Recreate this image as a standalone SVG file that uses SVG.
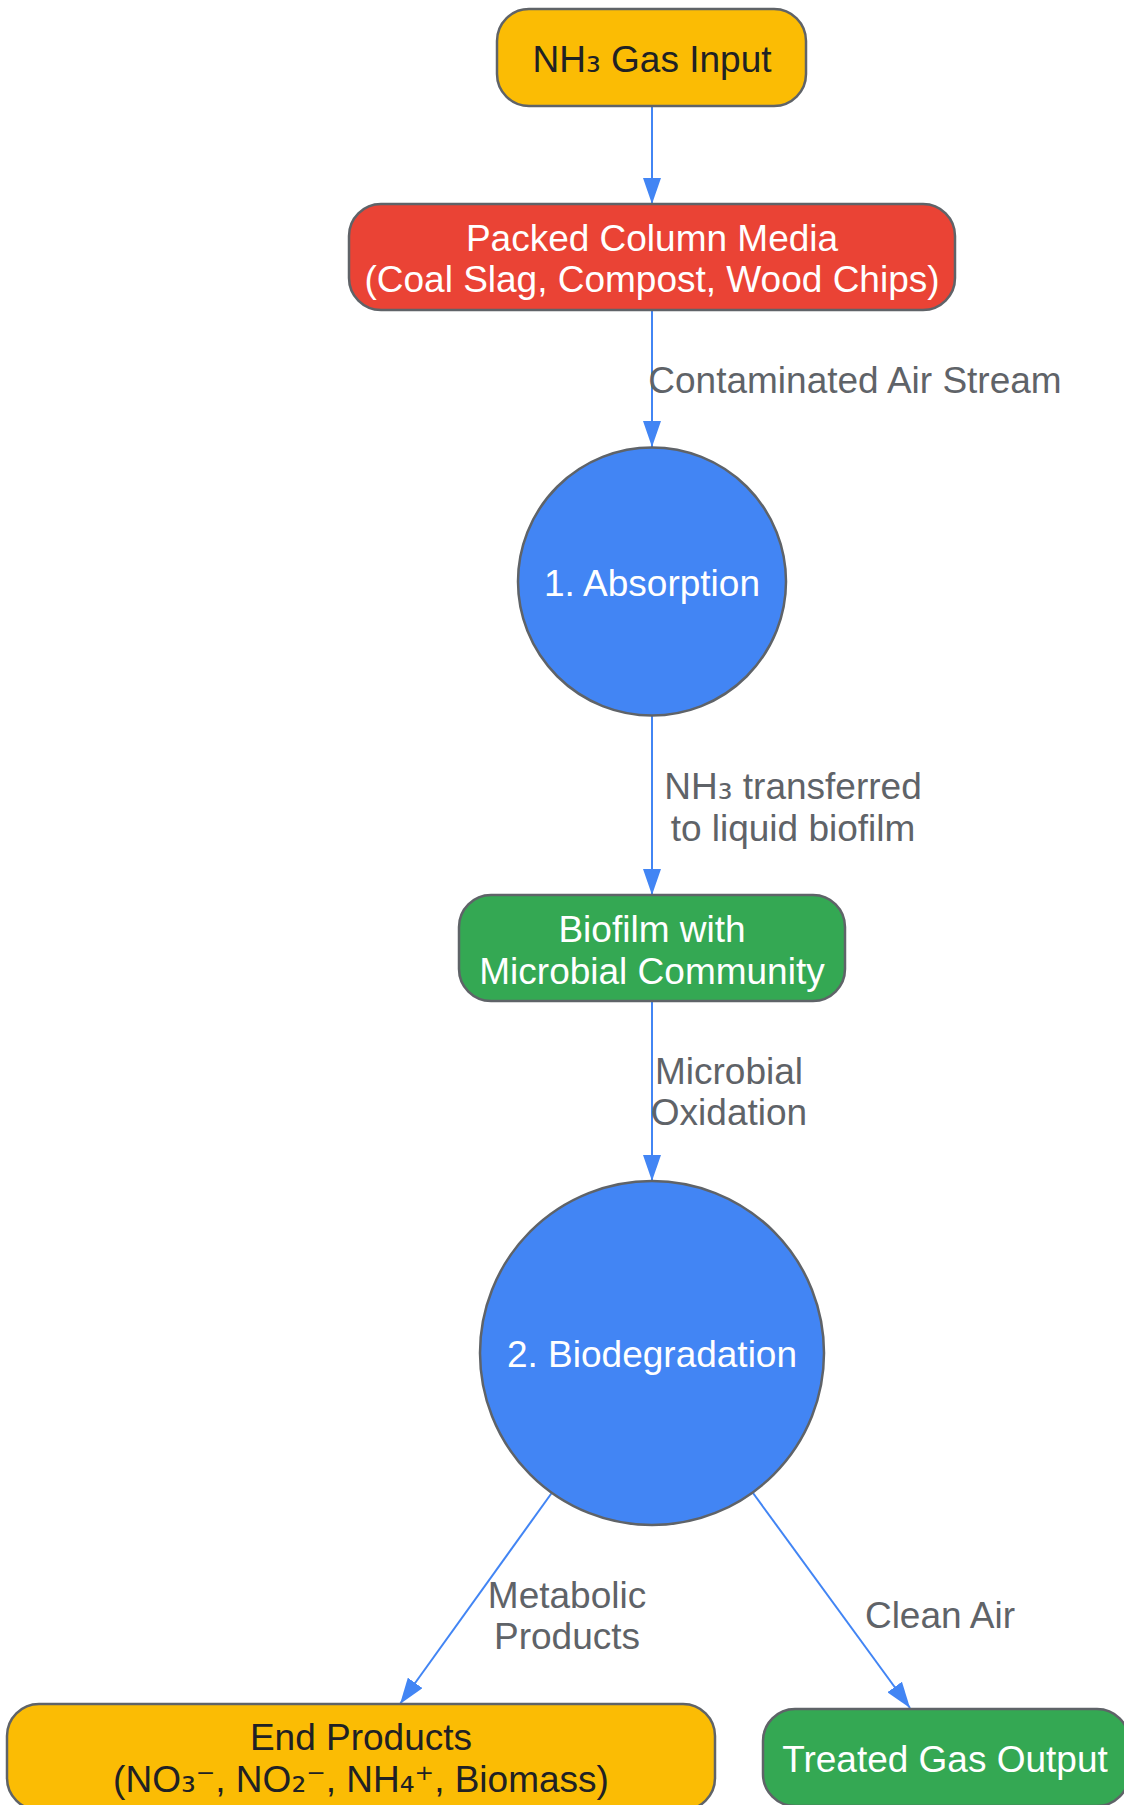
<svg xmlns="http://www.w3.org/2000/svg" width="1124" height="1805" viewBox="0 0 1124 1805">
<style>
  text { font-family: "Liberation Sans", Arial, sans-serif; font-size: 37px; text-anchor: middle; }
  .node { stroke: #5f6368; stroke-width: 2.5; }
  .yellow { fill: #fbbc04; }
  .red { fill: #ea4335; }
  .blue { fill: #4285f4; }
  .green { fill: #34a853; }
  .dark { fill: #202124; }
  .white { fill: #ffffff; }
  .label { fill: #5f6368; }
  .s1 { font-family: "DejaVu Sans", sans-serif; }
  .edge { stroke: #4285f4; stroke-width: 2; fill: none; marker-end: url(#arrow); }
</style>
<defs>
  <marker id="arrow" markerUnits="userSpaceOnUse" markerWidth="26" markerHeight="18" refX="26" refY="9" orient="auto">
    <path d="M0,0 L26,9 L0,18 z" fill="#4285f4"/>
  </marker>
</defs>
<rect width="1124" height="1805" fill="#ffffff"/>
<g id="connectors">
  <line class="edge" x1="652" y1="106" x2="652" y2="204"/>
  <line class="edge" x1="652" y1="310" x2="652" y2="447"/>
  <line class="edge" x1="652" y1="716" x2="652" y2="895"/>
  <line class="edge" x1="652" y1="1001" x2="652" y2="1181"/>
  <line class="edge" x1="551.7" y1="1493" x2="400" y2="1704"/>
  <line class="edge" x1="753" y1="1493" x2="910" y2="1708"/>
  <text class="label" x="855" y="393">Contaminated Air Stream</text>
  <text class="label" x="793" y="799">NH<tspan class="s1">₃</tspan> transferred</text>
  <text class="label" x="793" y="841">to liquid biofilm</text>
  <text class="label" x="729" y="1084">Microbial</text>
  <text class="label" x="729" y="1125">Oxidation</text>
  <text class="label" x="567" y="1608">Metabolic</text>
  <text class="label" x="567" y="1649">Products</text>
  <text class="label" x="940" y="1628">Clean Air</text>
</g>
<g id="nh3-input">
  <rect class="node yellow" x="497" y="9" width="309" height="97" rx="32"/>
  <text class="dark" x="652" y="72">NH<tspan class="s1">₃</tspan> Gas Input</text>
</g>
<g id="packed-column">
  <rect class="node red" x="349" y="204" width="606" height="106" rx="32"/>
  <text class="white" x="652" y="251">Packed Column Media</text>
  <text class="white" x="652" y="292">(Coal Slag, Compost, Wood Chips)</text>
</g>
<g id="absorption">
  <circle class="node blue" cx="652" cy="581.5" r="134"/>
  <text class="white" x="652" y="596">1. Absorption</text>
</g>
<g id="biofilm">
  <rect class="node green" x="459" y="895" width="386" height="106" rx="32"/>
  <text class="white" x="652" y="942">Biofilm with</text>
  <text class="white" x="652" y="984">Microbial Community</text>
</g>
<g id="biodegradation">
  <circle class="node blue" cx="652" cy="1353" r="172"/>
  <text class="white" x="652" y="1367">2. Biodegradation</text>
</g>
<g id="end-products">
  <rect class="node yellow" x="7" y="1704" width="708" height="106" rx="32"/>
  <text class="dark" x="361" y="1750">End Products</text>
  <text class="dark" x="361" y="1792">(NO<tspan class="s1">₃⁻</tspan>, NO<tspan class="s1">₂⁻</tspan>, NH<tspan class="s1">₄⁺</tspan>, Biomass)</text>
</g>
<g id="treated-gas">
  <rect class="node green" x="763" y="1709" width="366" height="97" rx="32"/>
  <text class="white" x="945" y="1772">Treated Gas Output</text>
</g>
</svg>
